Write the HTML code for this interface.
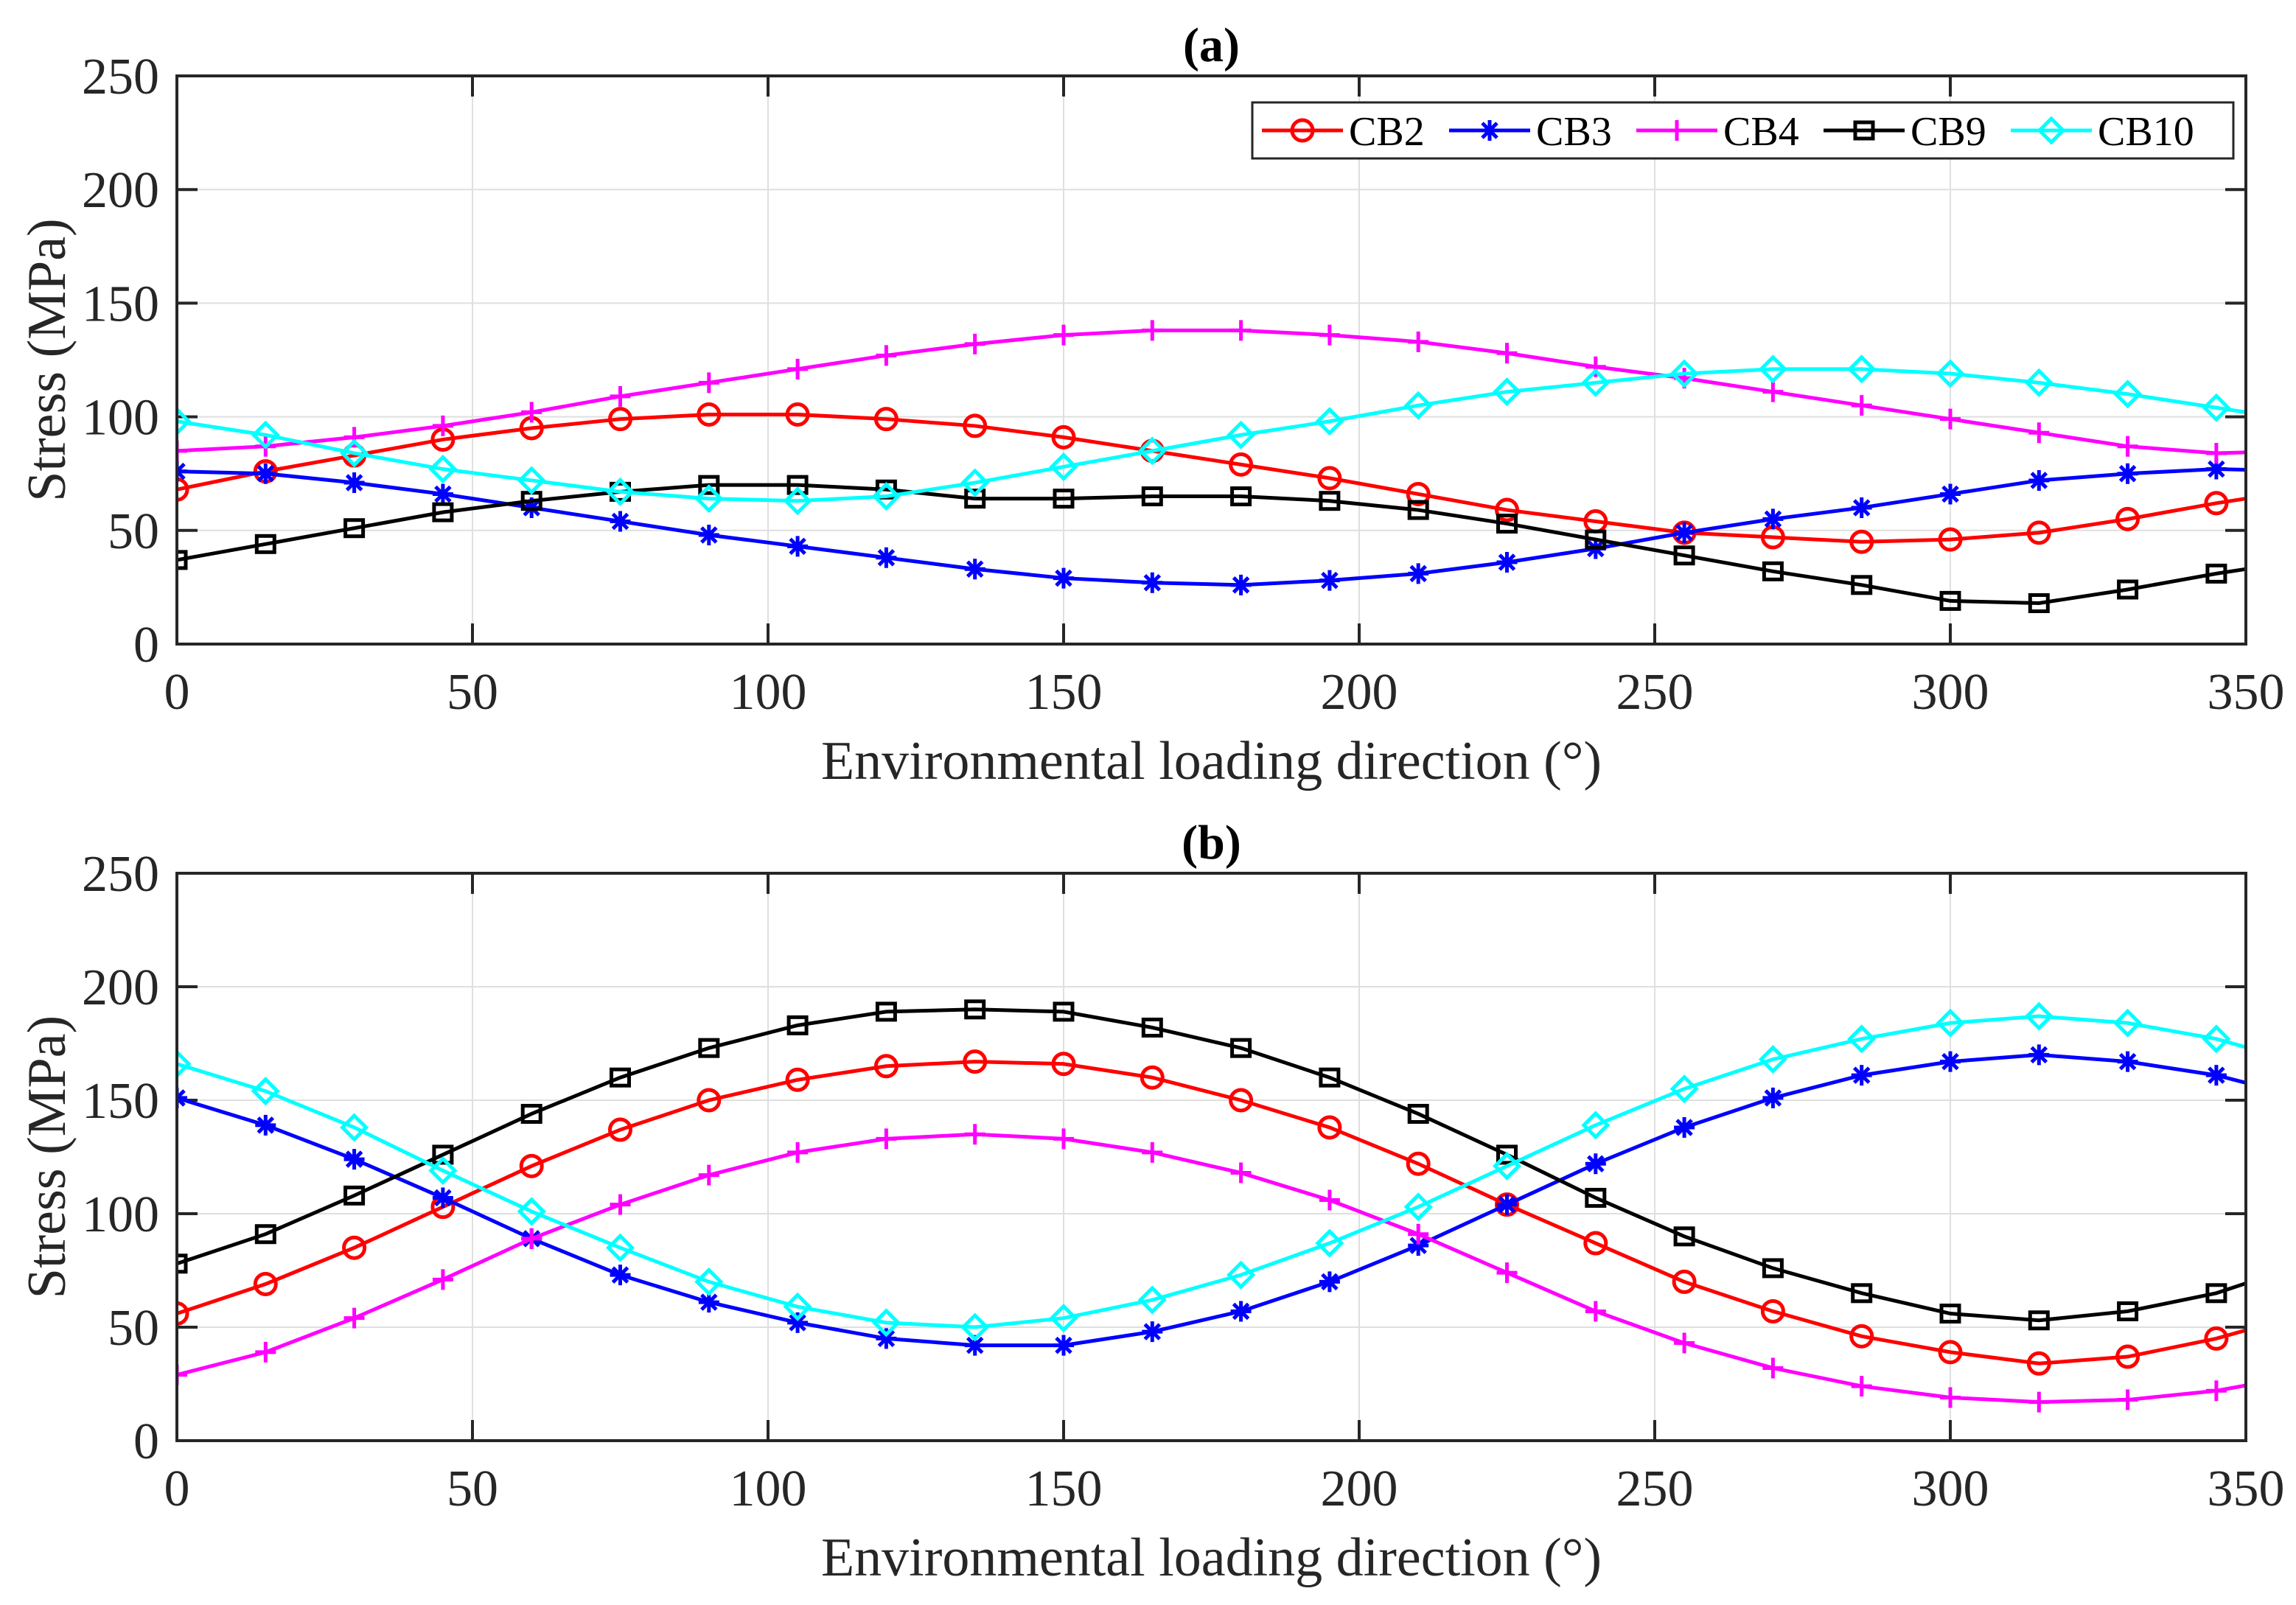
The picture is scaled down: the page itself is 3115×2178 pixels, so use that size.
<!DOCTYPE html>
<html><head><meta charset="utf-8"><style>
html,body{margin:0;padding:0;background:#fff;}
svg{display:block;font-family:"Liberation Serif",serif;}
</style></head><body>
<svg id="chart" width="3115" height="2178" viewBox="0 0 3115 2178" xmlns="http://www.w3.org/2000/svg"></svg>
<script>
const angles=[0,15,30,45,60,75,90,105,120,135,150,165,180,195,210,225,240,255,270,285,300,315,330,345,360];
const seriesNames=['CB2','CB3','CB4','CB9','CB10'];
const xTicks=[0,50,100,150,200,250,300,350];
const yTicks=[0,50,100,150,200,250];
const a_CB2=[68,76,83,90,95,99,101,101,99,96,91,85,79,73,66,59,54,49,47,45,46,49,55,62,68];
const a_CB3=[76,75,71,66,60,54,48,43,38,33,29,27,26,28,31,36,42,49,55,60,66,72,75,77,76];
const a_CB4=[85,87,91,96,102,109,115,121,127,132,136,138,138,136,133,128,122,117,111,105,99,93,87,84,85];
const a_CB9=[37,44,51,58,63,67,70,70,68,64,64,65,65,63,59,53,46,39,32,26,19,18,24,31,37];
const a_CB10=[98,92,84,77,72,67,64,63,65,71,78,85,92,98,105,111,115,119,121,121,119,115,110,104,98];
const b_CB2=[56,69,85,103,121,137,150,159,165,167,166,160,150,138,122,104,87,70,57,46,39,34,37,45,56];
const b_CB3=[151,139,124,107,89,73,61,52,45,42,42,48,57,70,86,104,122,138,151,161,167,170,167,161,151];
const b_CB4=[29,39,54,71,89,104,117,127,133,135,133,127,118,106,91,74,57,43,32,24,19,17,18,22,29];
const b_CB9=[78,91,108,126,144,160,173,183,189,190,189,182,173,160,144,126,107,90,76,65,56,53,57,65,78];
const b_CB10=[166,154,138,119,101,85,70,59,52,50,54,62,73,87,103,121,139,155,168,177,184,187,184,177,166];

const colors=['#ff0000','#0000ff','#ff00ff','#000000','#00ffff'];
const markers=['circle','star','plus','square','diamond'];
const NS='http://www.w3.org/2000/svg';
const svg=document.getElementById('chart');
function mk(tag,attrs,parent){const e=document.createElementNS(NS,tag);for(const k in attrs)e.setAttribute(k,attrs[k]);(parent||svg).appendChild(e);return e;}
const L=240,R=3047;
function drawMarker(g,type,x,y,c){
  let m;
  const w=5;
  if(type==='circle'){m=mk('circle',{cx:x,cy:y,r:14,fill:'none',stroke:c,'stroke-width':w},g);}
  else if(type==='square'){m=mk('rect',{x:x-12,y:y-11,width:24,height:22,fill:'none',stroke:c,'stroke-width':w},g);}
  else if(type==='diamond'){m=mk('polygon',{points:`${x},${y-16} ${x+16},${y} ${x},${y+16} ${x-16},${y}`,fill:'none',stroke:c,'stroke-width':w},g);}
  else if(type==='plus'){m=mk('path',{d:`M${x-14},${y}H${x+14}M${x},${y-14}V${y+14}`,stroke:c,'stroke-width':w},g);}
  else {m=mk('path',{d:`M${x-14},${y}H${x+14}M${x},${y-14}V${y+14}M${x-10},${y-10}L${x+10},${y+10}M${x-10},${y+10}L${x+10},${y-10}`,stroke:c,'stroke-width':w},g);}
  
  
}
function panel(id,T,B,title,data,legend){
  const sx=v=>L+(v/350)*(R-L);
  const sy=v=>B-(v/250)*(B-T);
  const g=mk('g',{});
  
  
  const clipId='clip'+id;
  const cp=mk('clipPath',{id:clipId},g);mk('rect',{x:L,y:T,width:R-L,height:B-T},cp);
  xTicks.forEach(t=>{
    const gl=mk('line',{x1:sx(t),x2:sx(t),y1:T,y2:B,stroke:'#dfdfdf','stroke-width':2},g);
    
    mk('line',{x1:sx(t),x2:sx(t),y1:B,y2:B-28,stroke:'#262626','stroke-width':4},g);
    mk('line',{x1:sx(t),x2:sx(t),y1:T,y2:T+28,stroke:'#262626','stroke-width':4},g);
    const tx=mk('text',{x:sx(t),y:B+88,'text-anchor':'middle','font-size':70,fill:'#262626'},g);tx.textContent=t;
    
  });
  yTicks.forEach(t=>{
    const gl=mk('line',{x1:L,x2:R,y1:sy(t),y2:sy(t),stroke:'#dfdfdf','stroke-width':2},g);
    
    mk('line',{x1:L,x2:L+28,y1:sy(t),y2:sy(t),stroke:'#262626','stroke-width':4},g);
    mk('line',{x1:R,x2:R-28,y1:sy(t),y2:sy(t),stroke:'#262626','stroke-width':4},g);
    const tx=mk('text',{x:L-24,y:sy(t)+24,'text-anchor':'end','font-size':70,fill:'#262626'},g);tx.textContent=t;
    
  });
  const sg=mk('g',{'clip-path':`url(#${clipId})`},g);
  data.forEach((vals,si)=>{
    const pts=vals.map((v,i)=>`${sx(angles[i])},${sy(v)}`).join(' ');
    const pl=mk('polyline',{points:pts,fill:'none',stroke:colors[si],'stroke-width':5},sg);
    
    
    vals.forEach((v,i)=>{if(angles[i]<=350)drawMarker(sg,markers[si],sx(angles[i]),sy(v),colors[si]);});
  });
  const fr=mk('rect',{x:L,y:T,width:R-L,height:B-T,fill:'none',stroke:'#262626','stroke-width':4},g);
  
  const tt=mk('text',{x:(L+R)/2,y:T-20,'text-anchor':'middle','font-size':66,'font-weight':'bold',fill:'#000'},g);tt.textContent=title;
  
  const xl=mk('text',{x:(L+R)/2,y:B+183,'text-anchor':'middle','font-size':74,fill:'#262626'},g);xl.textContent='Environmental loading direction (°)';
  
  const cy=(T+B)/2;
  const yl=mk('text',{x:88,y:cy,'text-anchor':'middle','font-size':74,fill:'#262626',transform:`rotate(-90 88 ${cy})`},g);yl.textContent='Stress (MPa)';
  
  if(legend){
    const lg=mk('g',{},g);
    
    mk('rect',{x:1699,y:139,width:1331,height:76,fill:'#fff',stroke:'#262626','stroke-width':3},lg);
    const starts=[1712,1966,2220,2474,2728];
    seriesNames.forEach((n,i)=>{
      const e=mk('g',{},lg);
      
      
      const x0=starts[i],yc=177;
      mk('line',{x1:x0,x2:x0+110,y1:yc,y2:yc,stroke:colors[i],'stroke-width':5},e);
      drawMarker(e,markers[i],x0+55,yc,colors[i]);
      const t=mk('text',{x:x0+118,y:yc+20,'font-size':56,fill:'#000'},e);t.textContent=n;
    });
  }
}
panel('a',103,874,'(a)',[a_CB2,a_CB3,a_CB4,a_CB9,a_CB10],true);
panel('b',1185,1955,'(b)',[b_CB2,b_CB3,b_CB4,b_CB9,b_CB10],false);
</script>
</body></html>
